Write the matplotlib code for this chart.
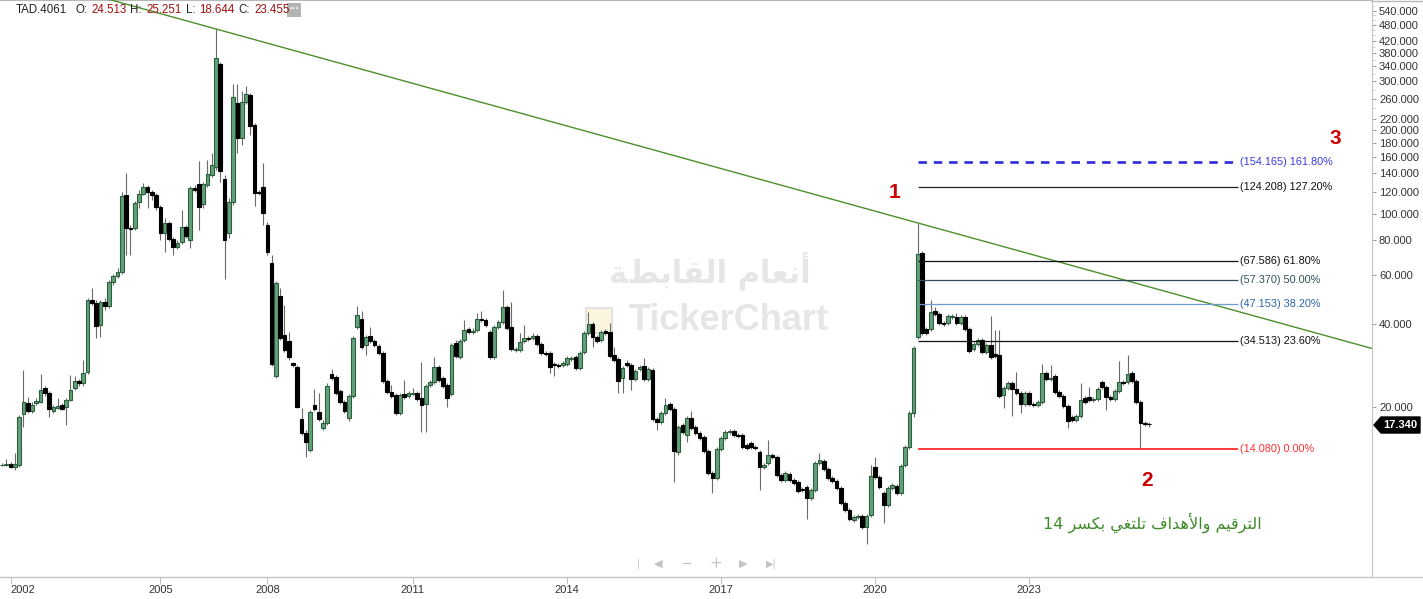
import math
import numpy as np
import matplotlib
matplotlib.use('Agg')
import matplotlib.pyplot as plt
from matplotlib.ticker import FixedLocator, NullFormatter, FuncFormatter
from matplotlib.patches import Polygon, Rectangle

plt.rcParams['font.family'] = ['Liberation Sans', 'DejaVu Sans']

# monthly candles (price units, log axis)
opens = [12.34, 12.34, 12.44, 12.14, 12.34, 18.87, 20.67, 19.34, 20.67, 20.84,
         23.42, 22.47, 19.34, 19.83, 20.33, 20.00, 21.19, 23.42, 24.83, 24.42,
         26.76, 48.71, 47.50, 39.56, 47.90, 46.34, 56.58, 59.48, 61.48, 116.7,
         88.67, 88.67, 110.1, 117.7, 124.7, 119.7, 116.7, 105.6, 85.06, 92.44,
         80.91, 75.71, 78.91, 89.41, 80.24, 123.7, 127.9, 108.3, 126.8, 137.8,
         147.3, 347.1, 133.3, 85.06, 110.1, 250.8, 187.5, 252.9, 268.1, 209.0,
         119.7, 124.7, 90.91, 66.27, 25.88, 50.36, 36.41, 34.64, 28.85, 27.90,
         18.10, 16.11, 13.99, 20.33, 19.18, 16.79, 17.50, 26.32, 25.67, 22.85,
         20.84, 18.25, 21.91, 38.91, 41.59, 33.50, 36.11, 34.64, 33.23, 31.34,
         24.83, 22.66, 22.10, 19.02, 22.28, 21.91, 22.28, 22.47, 21.55, 20.50,
         24.02, 24.62, 27.90, 25.46, 24.02, 22.28, 34.06, 30.32, 34.93, 38.27,
         37.32, 37.95, 41.59, 41.25, 37.32, 30.32, 38.91, 40.56, 45.96, 38.91,
         32.14, 32.14, 34.64, 35.51, 35.51, 36.11, 33.78, 31.34, 31.34, 28.61,
         28.37, 28.37, 28.61, 29.82, 30.32, 27.67, 31.61, 37.02, 39.89, 35.81,
         34.93, 37.63, 37.32, 30.83, 29.82, 25.46, 28.85, 28.37, 25.25, 27.44,
         28.13, 25.25, 27.21, 18.10, 17.65, 19.02, 20.50, 19.67, 13.75, 17.21,
         15.84, 18.25, 16.93, 16.11, 15.58, 13.87, 11.55, 11.08, 14.10, 15.45,
         16.24, 16.37, 15.84, 15.84, 14.58, 14.83, 14.34, 13.75, 12.14, 12.55,
         13.41, 13.19, 11.36, 10.89, 11.45, 10.89, 10.71, 10.11, 10.28, 9.38,
         10.03, 12.55, 12.76, 11.94, 11.08, 10.80, 10.19, 9.00, 8.49, 7.81,
         8.01, 8.08, 7.37, 8.14, 12.14, 11.17, 9.78, 8.85, 10.19, 10.37,
         9.78, 12.34, 14.34, 19.02, 35.81, 72.02, 38.27, 38.27, 44.45, 43.35,
         40.23, 40.23, 42.29, 42.29, 40.23, 42.29, 38.27, 32.41, 33.78, 34.93,
         31.61, 33.50, 31.08, 30.83, 22.10, 23.42, 24.42, 23.23, 22.47, 20.50,
         22.47, 20.50, 20.33, 20.84, 26.54, 25.25, 25.88, 22.66, 21.91, 20.17,
         18.40, 17.95, 18.55, 21.55, 21.73, 21.19, 21.37, 24.62, 23.62, 21.73,
         21.37, 22.85, 24.62, 24.62, 26.54, 24.83, 20.84, 17.50, 17.36]
highs = [12.55, 12.97, 12.65, 13.64, 18.71, 27.21, 21.73, 20.84, 21.55, 26.32,
         23.82, 22.85, 20.33, 21.55, 20.67, 21.55, 26.10, 25.88, 25.25, 29.57,
         49.53, 53.83, 48.71, 48.71, 49.53, 57.53, 60.48, 63.57, 119.7, 140.1,
         90.91, 111.0, 121.7, 128.9, 126.8, 121.7, 118.7, 107.4, 96.36, 93.98,
         82.27, 80.24, 103.0, 90.91, 125.7, 126.8, 154.8, 130.0, 156.1, 165.5,
         464.4, 352.9, 137.8, 113.8, 293.9, 293.9, 277.2, 289.0, 272.6, 212.5,
         121.7, 152.3, 93.21, 70.83, 57.05, 53.83, 46.72, 37.32, 29.09, 28.37,
         19.83, 16.51, 19.51, 23.23, 22.47, 17.95, 24.42, 27.44, 26.10, 23.23,
         21.19, 22.28, 36.11, 46.34, 44.45, 36.41, 38.91, 35.22, 33.78, 31.87,
         25.25, 24.02, 22.47, 22.47, 25.04, 22.85, 23.42, 22.85, 29.08, 24.22,
         25.04, 30.32, 28.37, 25.88, 24.42, 34.06, 34.93, 35.22, 41.25, 38.91,
         38.59, 43.72, 44.45, 41.94, 37.95, 39.56, 41.25, 52.94, 46.72, 47.90,
         32.95, 37.02, 39.56, 36.11, 37.02, 36.72, 34.35, 31.87, 31.87, 29.08,
         28.85, 29.33, 30.57, 30.57, 30.83, 31.87, 37.63, 44.08, 40.56, 36.41,
         37.95, 38.27, 40.23, 32.95, 30.32, 28.13, 29.57, 28.85, 27.44, 28.37,
         30.07, 27.90, 27.67, 18.40, 19.34, 21.55, 20.84, 20.00, 17.21, 17.50,
         18.55, 19.34, 17.21, 16.37, 15.84, 14.10, 11.74, 14.34, 15.71, 16.51,
         16.65, 16.65, 16.11, 16.11, 14.83, 15.07, 14.58, 13.99, 12.55, 15.20,
         13.64, 13.41, 11.55, 11.74, 11.64, 11.08, 10.89, 10.28, 10.45, 10.19,
         12.76, 13.64, 12.97, 12.14, 11.26, 10.99, 10.37, 9.15, 8.63, 8.14,
         8.21, 8.21, 8.21, 12.34, 13.19, 11.36, 9.94, 10.37, 10.62, 10.54,
         12.44, 14.58, 19.34, 33.23, 92.45, 73.23, 38.91, 48.71, 45.96, 44.08,
         40.90, 43.35, 43.35, 43.72, 43.00, 43.00, 38.91, 34.35, 35.51, 35.51,
         34.06, 42.64, 37.95, 37.95, 23.82, 24.83, 24.83, 26.76, 22.85, 22.85,
         22.85, 20.84, 21.19, 28.61, 26.98, 28.37, 26.32, 23.04, 22.28, 20.50,
         18.71, 18.87, 24.42, 21.91, 23.62, 21.73, 23.62, 25.04, 24.02, 22.10,
         23.23, 29.33, 25.04, 30.83, 26.98, 25.25, 21.19, 17.80, 17.65]
lows = [12.24, 12.24, 12.04, 11.84, 12.14, 16.93, 19.02, 19.02, 20.33, 20.67,
        21.91, 18.40, 19.02, 19.67, 19.51, 17.21, 21.02, 23.04, 23.82, 23.82,
        26.32, 46.72, 35.51, 35.81, 44.82, 45.58, 55.19, 58.50, 60.48, 70.83,
        70.83, 87.20, 104.7, 116.7, 104.7, 111.96, 103.0, 80.24, 72.62, 79.57,
        70.83, 74.46, 77.61, 81.59, 75.08, 119.7, 87.20, 104.7, 124.7, 135.5,
        143.7, 130.0, 58.02, 81.59, 107.4, 165.5, 176.9, 248.7, 192.3, 106.5,
        116.7, 90.91, 70.83, 28.13, 25.46, 34.93, 31.61, 29.57, 27.90, 19.83,
        15.84, 13.19, 13.75, 19.34, 17.80, 16.51, 17.21, 25.04, 22.10, 20.50,
        19.02, 17.80, 21.55, 38.27, 32.41, 30.83, 34.06, 32.95, 30.83, 24.42,
        22.28, 21.55, 18.71, 18.71, 21.37, 21.55, 22.10, 21.02, 16.24, 16.24,
        23.62, 24.22, 24.62, 23.42, 20.00, 21.91, 30.07, 29.82, 34.35, 36.72,
        36.72, 37.32, 40.56, 38.91, 29.82, 29.82, 38.27, 39.89, 37.95, 31.87,
        31.61, 31.61, 34.06, 34.64, 34.93, 33.23, 30.83, 30.57, 26.54, 25.88,
        27.67, 27.90, 28.13, 29.33, 27.21, 27.21, 31.08, 36.41, 32.95, 34.06,
        34.35, 36.41, 30.07, 29.08, 22.47, 22.47, 27.90, 23.04, 24.83, 26.98,
        24.83, 24.83, 17.80, 16.51, 17.36, 18.71, 19.34, 10.71, 13.41, 15.97,
        14.94, 16.51, 15.84, 15.20, 13.64, 11.36, 9.78, 10.89, 13.87, 15.20,
        15.97, 15.58, 15.45, 14.10, 13.99, 14.10, 13.99, 10.03, 11.94, 12.34,
        12.97, 11.17, 10.71, 10.71, 10.71, 10.45, 9.78, 9.86, 7.88, 9.23,
        9.86, 12.34, 11.74, 10.89, 10.62, 10.03, 8.85, 8.35, 7.75, 7.68,
        7.88, 7.25, 6.40, 8.01, 10.99, 10.11, 7.62, 8.70, 10.03, 9.62,
        9.62, 12.14, 14.10, 18.40, 35.22, 36.41, 36.41, 37.63, 42.64, 39.56,
        39.23, 39.56, 41.59, 39.56, 39.56, 37.63, 31.34, 31.87, 33.23, 31.08,
        31.08, 29.82, 30.07, 21.55, 19.83, 23.04, 18.55, 22.10, 19.02, 20.17,
        20.17, 20.00, 20.00, 20.50, 24.83, 24.83, 22.28, 21.55, 19.83, 16.79,
        17.65, 17.65, 18.25, 20.50, 20.84, 20.84, 21.02, 23.23, 19.51, 21.02,
        21.02, 22.47, 24.02, 24.22, 24.42, 20.50, 14.08, 17.07, 16.93]
closes = [12.36, 12.44, 12.14, 12.44, 18.40, 20.84, 19.34, 20.33, 21.02, 23.04,
          22.47, 19.67, 20.00, 20.17, 19.67, 21.19, 23.04, 24.83, 24.42, 26.54,
          48.71, 47.50, 39.23, 47.90, 46.34, 56.58, 59.48, 61.48, 115.8, 88.67,
          87.94, 109.2, 117.7, 124.7, 119.7, 116.7, 105.6, 85.06, 92.44, 80.91,
          75.71, 78.25, 89.41, 82.96, 123.7, 121.7, 105.6, 127.9, 138.9, 149.8,
          364.8, 142.5, 80.24, 110.1, 263.7, 187.5, 252.9, 270.4, 207.2, 118.7,
          118.7, 100.4, 72.62, 28.61, 56.12, 35.51, 32.14, 30.32, 28.37, 20.00,
          16.11, 14.94, 19.18, 19.67, 18.10, 17.50, 23.82, 25.46, 22.47, 20.84,
          19.34, 21.91, 35.51, 43.00, 32.95, 35.81, 34.64, 33.50, 31.34, 24.83,
          22.66, 21.91, 19.02, 22.10, 21.73, 22.47, 22.47, 21.37, 20.33, 23.82,
          24.62, 27.90, 25.04, 23.82, 21.55, 33.50, 30.57, 34.64, 37.95, 37.32,
          37.63, 41.59, 41.25, 39.56, 30.32, 38.91, 40.56, 45.96, 38.59, 32.41,
          32.41, 34.35, 35.51, 35.22, 36.11, 33.78, 31.34, 31.08, 27.90, 28.37,
          28.13, 28.85, 30.07, 30.07, 27.67, 31.34, 37.02, 39.89, 35.81, 34.64,
          37.32, 37.02, 30.57, 29.57, 24.83, 27.67, 28.37, 25.25, 26.98, 27.90,
          25.25, 27.44, 18.10, 17.65, 19.02, 20.33, 19.67, 13.87, 16.93, 16.24,
          18.25, 16.79, 16.11, 15.45, 13.87, 11.55, 11.08, 14.10, 15.45, 16.24,
          16.37, 15.84, 15.71, 14.34, 14.22, 14.34, 14.22, 12.14, 12.34, 13.41,
          13.19, 11.36, 10.89, 11.55, 10.89, 10.62, 9.94, 10.03, 9.38, 10.03,
          12.55, 12.86, 11.94, 11.08, 10.80, 10.19, 9.00, 8.49, 7.88, 8.01,
          8.08, 7.37, 8.08, 11.26, 11.17, 10.28, 8.85, 10.19, 10.45, 9.78,
          12.24, 14.34, 19.02, 32.68, 71.42, 37.02, 37.02, 44.08, 43.35, 40.23,
          39.89, 42.64, 42.64, 40.23, 42.29, 38.27, 31.87, 33.78, 34.93, 31.61,
          33.50, 30.32, 30.57, 21.91, 23.42, 24.42, 23.23, 22.47, 20.50, 22.47,
          20.50, 20.33, 20.84, 26.54, 25.25, 25.46, 22.66, 21.91, 20.17, 17.80,
          17.95, 18.55, 21.19, 20.84, 21.19, 21.37, 23.23, 23.62, 21.73, 21.37,
          22.85, 24.62, 24.42, 26.32, 24.83, 20.84, 17.50, 17.36, 17.34]

year_pos = [2, 37, 62, 96, 132, 168, 204, 240]
year_labels = ['2002', '2005', '2008', '2011', '2014', '2017', '2020', '2023']

price_ticks = [20, 40, 60, 80, 100, 120, 140, 160, 180, 200, 220, 260, 300,
               340, 380, 420, 480, 540]
price_minor = [240, 280, 320, 360, 400, 440, 460, 500, 520, 560]

fib_levels = [154.165, 124.208, 67.586, 57.370, 47.153, 34.513, 14.080]
fib_pcts = ['161.80%', '127.20%', '61.80%', '50.00%', '38.20%', '23.60%', '0.00%']
fib_line_colors = ['#2b2bdc', '#222222', '#111111', '#2f4f5a', '#6f9bc8', '#111111', '#ff2a2a']
fib_text_colors = ['#3a3ae0', '#111111', '#111111', '#2f4f5a', '#2a63a8', '#111111', '#ff3030']
fib_start = 214
fib_end = 288.8

trend_a = (50, 464.4)   # 2006 high
trend_b = (214, 92.45)  # 2020 high
last_price = 17.34

W, H = 1423, 599
fig = plt.figure(figsize=(W / 100, H / 100), dpi=100)
ax = fig.add_axes([0, 1 - 577 / H, 1372 / W, 577 / H])

o = np.array(opens); h = np.array(highs); l = np.array(lows); c = np.array(closes)
idx = np.arange(len(c))
up = c >= o

ax.vlines(idx, l, h, color='#6a6a6a', lw=0.8, zorder=2)
ax.bar(idx[up], (c - o)[up], bottom=o[up], width=0.86, color='#62a17a',
       edgecolor='#2d5f3c', lw=0.8, zorder=3)
ax.bar(idx[~up], (o - c)[~up], bottom=c[~up], width=0.86, color='black',
       edgecolor='black', lw=0.8, zorder=3)

ax.set_yscale('log')
x_lo, x_hi = -0.47, 320.1
ax.set_xlim(x_lo, x_hi)
ax.set_ylim(4.86, 591)

# trend line through the two highs
k = (math.log10(trend_b[1]) - math.log10(trend_a[1])) / (trend_b[0] - trend_a[0])
tx = [x_lo, x_hi]
ty = [10 ** (math.log10(trend_a[1]) + k * (x - trend_a[0])) for x in tx]
ax.plot(tx, ty, color='#4e8f2c', lw=1.0, zorder=4)

# fibonacci levels
for lev, pct, lc, tc in zip(fib_levels, fib_pcts, fib_line_colors, fib_text_colors):
    if pct == '161.80%':
        ax.hlines(lev, fib_start, fib_end, color=lc, lw=1.9, linestyles=(0, (3.2, 2.6)), zorder=4)
    elif pct == '0.00%':
        ax.hlines(lev, fib_start, fib_end, color=lc, lw=1.3, zorder=4)
    else:
        ax.hlines(lev, fib_start, fib_end, color=lc, lw=0.9, zorder=4)
    ax.text(fib_end + 0.4, lev, '(%.3f) %s' % (lev, pct), color=tc, fontsize=7.8,
            va='center', ha='left', zorder=5)

# axes styling
ax.spines['left'].set_visible(False)
ax.spines['right'].set_color('#c4c4c4')
ax.spines['top'].set_color('#b8b8b8')
ax.spines['bottom'].set_color('#c8c8c8')
ax.yaxis.tick_right()
ax.yaxis.set_major_locator(FixedLocator(price_ticks))
ax.yaxis.set_minor_locator(FixedLocator(price_minor))
ax.yaxis.set_major_formatter(FuncFormatter(lambda v, p: '%.3f' % v))
ax.yaxis.set_minor_formatter(NullFormatter())
ax.tick_params(axis='y', which='major', length=3, width=0.8, color='#a0a0a0',
               labelsize=8, labelcolor='#333333', pad=2)
ax.tick_params(axis='y', which='minor', length=2, width=0.6, color='#c8c8c8')
ax.set_xticks(year_pos)
ax.set_xticklabels(year_labels)
ax.tick_params(axis='x', length=5, width=0.8, color='#c0c0c0', labelsize=8,
               labelcolor='#333333', pad=1, direction='out')
ax.get_xticklabels()[0].set_ha('left')

# watermark
ax.text(710 / W, 1 - 272 / H,
        '\ufe94\ufec2\ufe91\ufe8e\ufed8\ufedf\ufe8d \ufee1\ufe8e\ufecc\ufee7\ufe83',
        transform=fig.transFigure, fontsize=22, fontweight='bold', color='#e6e6e6',
        ha='center', va='center', zorder=0.5, family=['DejaVu Sans'])
ax.text(729 / W, 1 - 320 / H, 'TickerChart', transform=fig.transFigure, fontsize=26,
        fontweight='bold', color='#e6e6e6', ha='center', va='center', zorder=0.5)
ax.add_patch(Rectangle((586 / W, 1 - 333 / H), 26 / W, 25 / H, transform=fig.transFigure,
                       facecolor='#fbf4de', edgecolor='#e2e2e2', lw=1.5, zorder=0.5))

# annotations
fig.text(895 / W, 1 - 192 / H, '1', color='#cc0000', fontsize=15, fontweight='bold',
         ha='center', va='center')
fig.text(1147 / W, 1 - 481 / H, '2', color='#cc0000', fontsize=15, fontweight='bold',
         ha='center', va='center')
fig.text(1335 / W, 1 - 139 / H, '3', color='#cc0000', fontsize=15, fontweight='bold',
         ha='center', va='center')
note = ('14 ' + '\ufeae\ufeb4\ufedc\ufe91' + ' ' + '\ufef2\ufed0\ufe98\ufee0\ufe97' + ' '
        + '\ufed1\ufe8d\ufeaa\ufeeb\ufef7\ufe8d\ufeed' + ' '
        + '\ufee2\ufef4\ufed7\ufeae\ufe98\ufedf\ufe8d')
fig.text(1152 / W, 1 - 523 / H, note, color='#3f8a2a', fontsize=11.5, ha='center',
         va='center', family=['DejaVu Sans'])

# header
hy = 1 - 10 / H
fig.text(16 / W, hy, 'TAD.4061', fontsize=8.3, color='#222222', va='center')
for lab, val, xl, xv in [('O:', '24.513', 75, 91), ('H:', '25.251', 130, 146),
                         ('L:', '18.644', 186, 199), ('C:', '23.455', 238, 254)]:
    fig.text(xl / W, hy, lab, fontsize=8.3, color='#222222', va='center')
    fig.text(xv / W, hy, val, fontsize=8.3, color='#a01010', va='center')
fig.patches.append(Rectangle((287 / W, 1 - 17 / H), 14 / W, 14 / H, transform=fig.transFigure,
                             facecolor='#b4b4b4', edgecolor='none'))
fig.text(294 / W, 1 - 9 / H, '···', fontsize=7, color='white', ha='center', va='center',
         fontweight='bold')

# last price marker
pts = [(1374, 425), (1381, 417), (1420, 417), (1420, 433), (1381, 433)]
fig.patches.append(Polygon([(x / W, 1 - y / H) for x, y in pts], closed=True,
                           transform=fig.transFigure, facecolor='black', edgecolor='black'))
fig.text(1400 / W, 1 - 425 / H, '%.3f' % last_price, color='white', fontsize=8,
         fontweight='bold', ha='center', va='center')

# bottom frame line across the whole width
fig.add_artist(plt.Line2D([0, 1], [1 - 577 / H, 1 - 577 / H], transform=fig.transFigure,
                          color='#c8c8c8', lw=1))
fig.add_artist(plt.Line2D([1372 / W, 1], [1 - 0.5 / H, 1 - 0.5 / H], transform=fig.transFigure,
                          color='#b8b8b8', lw=1))

# navigation bar
for xp, sym, fs in [(638, '|', 7), (658, '◀', 8), (686, '−', 10), (716, '+', 11),
                    (743, '▶', 8), (771, '▶|', 7)]:
    fig.text(xp / W, 1 - 564 / H, sym, color='#c4c4c4', fontsize=fs, ha='center',
             va='center', family=['DejaVu Sans'])

fig.savefig('out.png', dpi=100)
